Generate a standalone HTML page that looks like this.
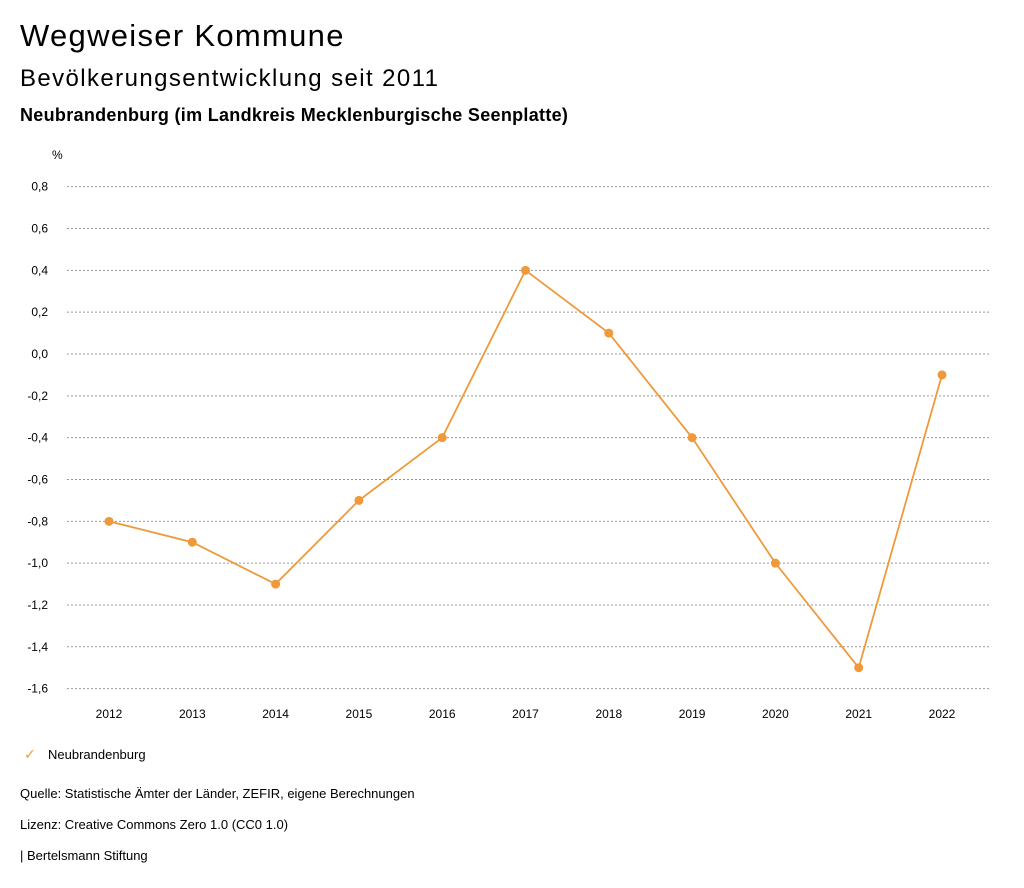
<!DOCTYPE html>
<html><head><meta charset="utf-8"><style>
body{margin:0;width:1024px;height:888px;background:#fff;font-family:"Liberation Sans",sans-serif;color:#000;position:relative;overflow:hidden}
.t{position:absolute;left:20px;white-space:nowrap}
</style></head><body>
<div class="t" style="top:18px;font-size:31px;letter-spacing:1.3px">Wegweiser Kommune</div>
<div class="t" style="top:65px;font-size:24px;letter-spacing:1.4px">Bevölkerungsentwicklung seit 2011</div>
<div class="t" style="top:105px;font-size:18px;font-weight:bold;letter-spacing:0.3px">Neubrandenburg (im Landkreis Mecklenburgische Seenplatte)</div>
<svg id="chart" width="1024" height="888" style="position:absolute;left:0;top:0" font-family="Liberation Sans, sans-serif" font-size="12"></svg>
<div class="t" style="top:746px;left:24px;font-size:13px"><span style="color:#ee9a3a;font-size:14px;display:inline-block;width:24px">✓</span>Neubrandenburg</div>
<div class="t" style="top:786px;font-size:13px">Quelle: Statistische Ämter der Länder, ZEFIR, eigene Berechnungen</div>
<div class="t" style="top:817px;font-size:13px">Lizenz: Creative Commons Zero 1.0 (CC0 1.0)</div>
<div class="t" style="top:848px;font-size:13px">| Bertelsmann Stiftung</div>
<script>
const years=["2012","2013","2014","2015","2016","2017","2018","2019","2020","2021","2022"];
const values=[-0.8,-0.9,-1.1,-0.7,-0.4,0.4,0.1,-0.4,-1.0,-1.5,-0.1];
const ticks=[0.8,0.6,0.4,0.2,0,-0.2,-0.4,-0.6,-0.8,-1.0,-1.2,-1.4,-1.6];
const svg=document.getElementById('chart');const NS='http://www.w3.org/2000/svg';
const y=v=>354-(v/0.2)*41.83;
const x=i=>109+i*83.3;
function mk(t,a){const e=document.createElementNS(NS,t);for(const k in a)e.setAttribute(k,a[k]);svg.appendChild(e);return e;}
let u=mk('text',{x:52,y:159,'text-anchor':'start'});u.textContent='%';


ticks.forEach(t=>{
const l=mk('line',{x1:67,x2:990,y1:y(t),y2:y(t),stroke:'#999','stroke-dasharray':'2,2','stroke-width':1});


const tx=mk('text',{x:48,y:y(t)+4,'text-anchor':'end'});tx.textContent=t.toFixed(1).replace('.',',');


});
years.forEach((yr,i)=>{const tx=mk('text',{x:x(i),y:718,'text-anchor':'middle'});tx.textContent=yr;

});
const p=mk('polyline',{points:values.map((v,i)=>x(i)+','+y(v)).join(' '),fill:'none',stroke:'#ee9a3a','stroke-width':1.8});


values.forEach((v,i)=>{const c=mk('circle',{cx:x(i),cy:y(v),r:4.5,fill:'#ee9a3a'});

});
</script>
</body></html>
